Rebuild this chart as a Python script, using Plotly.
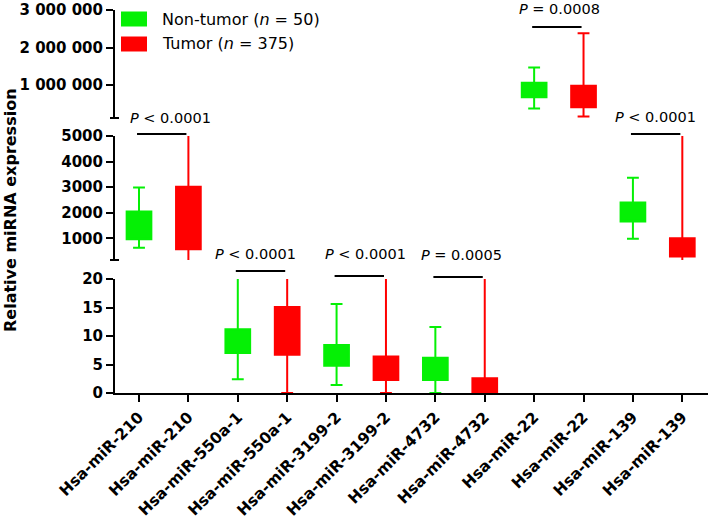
import plotly.graph_objects as go

# ---------------- data ----------------
categories = ["Hsa-miR-210", "Hsa-miR-210", "Hsa-miR-550a-1", "Hsa-miR-550a-1",
              "Hsa-miR-3199-2", "Hsa-miR-3199-2", "Hsa-miR-4732", "Hsa-miR-4732",
              "Hsa-miR-22", "Hsa-miR-22", "Hsa-miR-139", "Hsa-miR-139"]
groups = ["Non-tumor", "Tumor"] * 6
lower = [640, 100, 2.4, 0, 1.4, 0, 0, 0, 377000, 160000, 990, 100]
q1 = [970, 580, 7.0, 6.7, 4.8, 2.3, 2.3, 0, 674000, 410000, 1660, 290]
q3 = [2050, 3020, 11.2, 15.1, 8.4, 6.4, 6.2, 2.6, 1060000, 982000, 2400, 1010]
upper = [2990, 6000, 25, 30, 15.6, 30, 11.6, 30, 1470000, 2385000, 3370, 6000]
segment = ["mid", "mid", "low", "low", "low", "low", "low", "low", "top", "top", "mid", "mid"]

p_labels = ["<i>P</i> < 0.0001", "<i>P</i> < 0.0001", "<i>P</i> < 0.0001",
            "<i>P</i> = 0.0005", "<i>P</i> = 0.0008", "<i>P</i> < 0.0001"]
p_first = [0, 2, 4, 6, 8, 10]

low_ticks = [0, 5, 10, 15, 20]
mid_ticks = [1000, 2000, 3000, 4000, 5000]
top_ticks = [1000000, 2000000, 3000000]
top_ticktext = ["1 000 000", "2 000 000", "3 000 000"]
legend_labels = ["Non-tumor (<i>n</i> = 50)", "Tumor (<i>n</i> = 375)"]

# ---------------- style / layout ----------------
W, H = 709, 523
ML, MR, MT, MB = 115, 1, 6, 130
PW, PH = W - ML - MR, H - MT - MB
BOT = MT + PH  # pixel y of x axis


def py(p):
    return (BOT - p) / PH


def px(p):
    return (p - ML) / PW


colors = {"Non-tumor": "#05f005", "Tumor": "#ff0000"}
axis_of = {"low": "y", "mid": "y2", "top": "y3"}
FONT = "DejaVu Sans"

fig = go.Figure()
for i, cat in enumerate(categories):
    c = colors[groups[i]]
    fig.add_trace(go.Box(
        x=[i], q1=[q1[i]], median=[q1[i]], q3=[q3[i]],
        lowerfence=[lower[i]], upperfence=[upper[i]],
        width=0.5, whiskerwidth=0.48, boxpoints=False,
        line=dict(color=c, width=2), fillcolor=c,
        xaxis="x", yaxis=axis_of[segment[i]], showlegend=False,
        name=groups[i], hoverinfo="skip"))

tickfont = dict(family=FONT, size=15, color="black", weight="bold")
yax_common = dict(showgrid=False, zeroline=False, showline=True, linecolor="black",
                  linewidth=2, ticks="outside", ticklen=7, tickwidth=2, tickcolor="black",
                  tickfont=tickfont, anchor="x", automargin=False,
                  ticklabeloverflow="allow")

fig.update_layout(
    width=W, height=H, template="none",
    margin=dict(l=ML, r=MR, t=MT, b=MB, pad=0),
    paper_bgcolor="white", plot_bgcolor="white",
    showlegend=False,
    xaxis=dict(range=[-0.486, 11.52], tickmode="array", tickvals=list(range(len(categories))),
               ticktext=categories, tickangle=-45, showgrid=False, zeroline=False,
               showline=True, linecolor="black", linewidth=2, ticks="outside", ticklen=7,
               tickwidth=2, tickcolor="black", automargin=False,
               ticklabeloverflow="allow",
               tickfont=dict(family=FONT, size=15.5, color="black", weight="bold"),
               anchor="y"),
    yaxis=dict(domain=[0, py(279)], range=[0, 20], tickmode="array", tickvals=low_ticks,
               **yax_common),
    yaxis2=dict(domain=[py(260), py(136)], range=[157, 5000], tickmode="array",
                tickvals=mid_ticks, **yax_common),
    yaxis3=dict(domain=[py(118), py(10)], range=[120000, 3005000], tickmode="array",
                tickvals=top_ticks, ticktext=top_ticktext, **yax_common),
)

shapes = []
annotations = []

# break caps on y axis
for cap_y in [118, 260]:
    shapes.append(dict(type="line", xref="paper", yref="paper", x0=px(110), x1=px(119),
                       y0=py(cap_y), y1=py(cap_y), line=dict(color="black", width=2)))

# significance bars and P labels
line_y = [134, 271, 276, 277, 27, 134]
text_x = [170, 255, 365, 462, 559, 655]
text_y = [118, 254, 254, 255, 9, 117]
for k, i in enumerate(p_first):
    shapes.append(dict(type="line", xref="x", yref="paper", x0=i - 0.04, x1=i + 1 - 0.04,
                       y0=py(line_y[k]), y1=py(line_y[k]),
                       line=dict(color="black", width=2)))
    annotations.append(dict(text=p_labels[k], xref="paper", yref="paper",
                            x=px(text_x[k]), y=py(text_y[k]), showarrow=False,
                            xanchor="center", yanchor="middle",
                            font=dict(family=FONT, size=14.5, color="black")))

# legend
leg_y = [19, 44]
for k, g in enumerate(["Non-tumor", "Tumor"]):
    shapes.append(dict(type="rect", xref="paper", yref="paper", x0=px(121), x1=px(147),
                       y0=py(leg_y[k] - 7.5), y1=py(leg_y[k] + 7.5),
                       fillcolor=colors[g], line=dict(width=0)))
    annotations.append(dict(text=legend_labels[k], xref="paper", yref="paper",
                            x=px(160), y=py(leg_y[k]), showarrow=False,
                            xanchor="left", yanchor="middle",
                            font=dict(family=FONT, size=16, color="black")))

# y axis title
annotations.append(dict(text="Relative miRNA expression", xref="paper", yref="paper",
                        x=px(10), y=py(210), showarrow=False, textangle=-90,
                        xanchor="center", yanchor="middle",
                        font=dict(family=FONT, size=16, color="black", weight="bold")))

fig.update_layout(shapes=shapes, annotations=annotations)
fig.write_html("out.html", config={"displayModeBar": False},
               post_script="document.body.style.margin='0px';")
